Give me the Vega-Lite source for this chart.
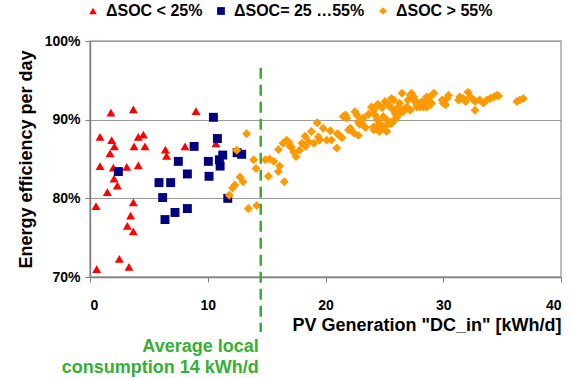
{
  "$schema": "https://vega.github.io/schema/vega-lite/v6.json",
  "width": 471,
  "height": 236,
  "autosize": {"type": "none"},
  "padding": {"left": 90, "top": 41, "right": 13, "bottom": 101},
  "config": {
    "font": "Liberation Sans",
    "view": {"stroke": "#a8a8a8", "strokeWidth": 1.5}
  },
  "layer": [
    {
      "data": {
        "values": [
          {"group": "ΔSOC < 25%", "x": 1.78, "y": 90.9},
          {"group": "ΔSOC < 25%", "x": 3.68, "y": 91.3},
          {"group": "ΔSOC < 25%", "x": 9.0, "y": 91.1},
          {"group": "ΔSOC < 25%", "x": 0.85, "y": 87.8},
          {"group": "ΔSOC < 25%", "x": 1.84, "y": 87.4},
          {"group": "ΔSOC < 25%", "x": 2.07, "y": 86.6},
          {"group": "ΔSOC < 25%", "x": 1.7, "y": 85.7},
          {"group": "ΔSOC < 25%", "x": 4.1, "y": 87.8},
          {"group": "ΔSOC < 25%", "x": 4.53, "y": 88.1},
          {"group": "ΔSOC < 25%", "x": 4.67, "y": 86.6},
          {"group": "ΔSOC < 25%", "x": 3.74, "y": 86.6},
          {"group": "ΔSOC < 25%", "x": 0.85, "y": 84.1},
          {"group": "ΔSOC < 25%", "x": 1.98, "y": 83.9},
          {"group": "ΔSOC < 25%", "x": 3.12, "y": 84.0},
          {"group": "ΔSOC < 25%", "x": 4.1, "y": 84.2},
          {"group": "ΔSOC < 25%", "x": 2.04, "y": 82.5},
          {"group": "ΔSOC < 25%", "x": 2.32, "y": 81.6},
          {"group": "ΔSOC < 25%", "x": 1.47, "y": 80.8},
          {"group": "ΔSOC < 25%", "x": 0.51, "y": 79.0},
          {"group": "ΔSOC < 25%", "x": 3.68, "y": 79.5},
          {"group": "ΔSOC < 25%", "x": 3.45, "y": 77.8},
          {"group": "ΔSOC < 25%", "x": 3.17, "y": 76.5},
          {"group": "ΔSOC < 25%", "x": 3.68, "y": 75.8},
          {"group": "ΔSOC < 25%", "x": 2.49, "y": 72.3},
          {"group": "ΔSOC < 25%", "x": 3.31, "y": 71.3},
          {"group": "ΔSOC < 25%", "x": 0.57, "y": 71.0},
          {"group": "ΔSOC < 25%", "x": 6.4, "y": 86.2},
          {"group": "ΔSOC < 25%", "x": 6.5, "y": 85.4},
          {"group": "ΔSOC < 25%", "x": 8.07, "y": 86.6},
          {"group": "ΔSOC < 25%", "x": 10.7, "y": 87.0},
          {"group": "ΔSOC= 25 …55%", "x": 2.41, "y": 83.4},
          {"group": "ΔSOC= 25 …55%", "x": 10.48, "y": 90.3},
          {"group": "ΔSOC= 25 …55%", "x": 10.82, "y": 87.6},
          {"group": "ΔSOC= 25 …55%", "x": 8.84, "y": 86.6},
          {"group": "ΔSOC= 25 …55%", "x": 11.27, "y": 85.5},
          {"group": "ΔSOC= 25 …55%", "x": 10.99, "y": 84.9},
          {"group": "ΔSOC= 25 …55%", "x": 11.05, "y": 84.1},
          {"group": "ΔSOC= 25 …55%", "x": 10.05, "y": 84.7},
          {"group": "ΔSOC= 25 …55%", "x": 10.11, "y": 82.8},
          {"group": "ΔSOC= 25 …55%", "x": 12.88, "y": 85.6},
          {"group": "ΔSOC= 25 …55%", "x": 12.5, "y": 85.8},
          {"group": "ΔSOC= 25 …55%", "x": 7.5, "y": 84.7},
          {"group": "ΔSOC= 25 …55%", "x": 8.27, "y": 83.1},
          {"group": "ΔSOC= 25 …55%", "x": 5.86, "y": 82.0},
          {"group": "ΔSOC= 25 …55%", "x": 6.85, "y": 82.0},
          {"group": "ΔSOC= 25 …55%", "x": 6.17, "y": 80.1},
          {"group": "ΔSOC= 25 …55%", "x": 8.27, "y": 78.7},
          {"group": "ΔSOC= 25 …55%", "x": 7.22, "y": 78.2},
          {"group": "ΔSOC= 25 …55%", "x": 6.37, "y": 77.3},
          {"group": "ΔSOC= 25 …55%", "x": 11.7, "y": 80.0},
          {"group": "ΔSOC > 55%", "x": 13.3, "y": 88.2},
          {"group": "ΔSOC > 55%", "x": 12.46, "y": 86.1},
          {"group": "ΔSOC > 55%", "x": 13.9, "y": 84.9},
          {"group": "ΔSOC > 55%", "x": 14.1, "y": 83.8},
          {"group": "ΔSOC > 55%", "x": 12.74, "y": 82.7},
          {"group": "ΔSOC > 55%", "x": 13.0, "y": 82.1},
          {"group": "ΔSOC > 55%", "x": 12.3, "y": 81.7},
          {"group": "ΔSOC > 55%", "x": 12.1, "y": 81.3},
          {"group": "ΔSOC > 55%", "x": 11.83, "y": 80.4},
          {"group": "ΔSOC > 55%", "x": 13.45, "y": 78.7},
          {"group": "ΔSOC > 55%", "x": 14.16, "y": 79.1},
          {"group": "ΔSOC > 55%", "x": 14.9, "y": 84.9},
          {"group": "ΔSOC > 55%", "x": 15.25, "y": 85.0},
          {"group": "ΔSOC > 55%", "x": 15.15, "y": 82.8},
          {"group": "ΔSOC > 55%", "x": 15.6, "y": 84.7},
          {"group": "ΔSOC > 55%", "x": 16.0, "y": 86.2},
          {"group": "ΔSOC > 55%", "x": 16.1, "y": 84.1},
          {"group": "ΔSOC > 55%", "x": 16.0, "y": 83.4},
          {"group": "ΔSOC > 55%", "x": 16.5, "y": 82.1},
          {"group": "ΔSOC > 55%", "x": 16.4, "y": 87.0},
          {"group": "ΔSOC > 55%", "x": 16.7, "y": 87.4},
          {"group": "ΔSOC > 55%", "x": 16.9, "y": 87.1},
          {"group": "ΔSOC > 55%", "x": 17.0, "y": 86.6},
          {"group": "ΔSOC > 55%", "x": 17.1, "y": 86.5},
          {"group": "ΔSOC > 55%", "x": 17.3, "y": 85.9},
          {"group": "ΔSOC > 55%", "x": 17.5, "y": 85.3},
          {"group": "ΔSOC > 55%", "x": 17.8, "y": 86.1},
          {"group": "ΔSOC > 55%", "x": 18.0, "y": 87.0},
          {"group": "ΔSOC > 55%", "x": 18.3, "y": 86.6},
          {"group": "ΔSOC > 55%", "x": 18.55, "y": 87.2},
          {"group": "ΔSOC > 55%", "x": 18.27, "y": 87.9},
          {"group": "ΔSOC > 55%", "x": 18.8, "y": 88.5},
          {"group": "ΔSOC > 55%", "x": 19.0, "y": 87.0},
          {"group": "ΔSOC > 55%", "x": 19.3, "y": 89.6},
          {"group": "ΔSOC > 55%", "x": 19.4, "y": 87.8},
          {"group": "ΔSOC > 55%", "x": 19.5, "y": 87.4},
          {"group": "ΔSOC > 55%", "x": 19.8, "y": 88.9},
          {"group": "ΔSOC > 55%", "x": 20.1, "y": 87.4},
          {"group": "ΔSOC > 55%", "x": 20.4, "y": 88.6},
          {"group": "ΔSOC > 55%", "x": 20.5, "y": 87.4},
          {"group": "ΔSOC > 55%", "x": 20.96, "y": 86.4},
          {"group": "ΔSOC > 55%", "x": 21.0, "y": 88.2},
          {"group": "ΔSOC > 55%", "x": 21.2, "y": 88.0},
          {"group": "ΔSOC > 55%", "x": 21.4, "y": 87.7},
          {"group": "ΔSOC > 55%", "x": 21.5, "y": 90.4},
          {"group": "ΔSOC > 55%", "x": 21.7, "y": 90.6},
          {"group": "ΔSOC > 55%", "x": 21.8, "y": 90.2},
          {"group": "ΔSOC > 55%", "x": 21.95, "y": 88.7},
          {"group": "ΔSOC > 55%", "x": 22.1, "y": 88.9},
          {"group": "ΔSOC > 55%", "x": 22.4, "y": 88.3},
          {"group": "ΔSOC > 55%", "x": 22.8, "y": 88.0},
          {"group": "ΔSOC > 55%", "x": 22.5, "y": 91.0},
          {"group": "ΔSOC > 55%", "x": 22.66, "y": 90.6},
          {"group": "ΔSOC > 55%", "x": 22.8, "y": 89.7},
          {"group": "ΔSOC > 55%", "x": 22.9, "y": 89.4},
          {"group": "ΔSOC > 55%", "x": 23.1, "y": 89.5},
          {"group": "ΔSOC > 55%", "x": 23.2, "y": 90.2},
          {"group": "ΔSOC > 55%", "x": 23.4, "y": 89.0},
          {"group": "ΔSOC > 55%", "x": 23.65, "y": 90.7},
          {"group": "ΔSOC > 55%", "x": 23.9, "y": 91.6},
          {"group": "ΔSOC > 55%", "x": 24.1, "y": 91.2},
          {"group": "ΔSOC > 55%", "x": 24.2, "y": 90.6},
          {"group": "ΔSOC > 55%", "x": 24.1, "y": 89.1},
          {"group": "ΔSOC > 55%", "x": 24.1, "y": 88.7},
          {"group": "ΔSOC > 55%", "x": 24.4, "y": 88.7},
          {"group": "ΔSOC > 55%", "x": 24.6, "y": 88.5},
          {"group": "ΔSOC > 55%", "x": 24.4, "y": 90.0},
          {"group": "ΔSOC > 55%", "x": 24.4, "y": 89.1},
          {"group": "ΔSOC > 55%", "x": 24.6, "y": 89.5},
          {"group": "ΔSOC > 55%", "x": 24.4, "y": 91.9},
          {"group": "ΔSOC > 55%", "x": 24.5, "y": 91.9},
          {"group": "ΔSOC > 55%", "x": 24.8, "y": 91.5},
          {"group": "ΔSOC > 55%", "x": 24.9, "y": 90.4},
          {"group": "ΔSOC > 55%", "x": 24.9, "y": 89.1},
          {"group": "ΔSOC > 55%", "x": 25.2, "y": 90.0},
          {"group": "ΔSOC > 55%", "x": 25.2, "y": 88.5},
          {"group": "ΔSOC > 55%", "x": 25.35, "y": 89.5},
          {"group": "ΔSOC > 55%", "x": 25.06, "y": 92.3},
          {"group": "ΔSOC > 55%", "x": 25.35, "y": 91.9},
          {"group": "ΔSOC > 55%", "x": 25.5, "y": 91.6},
          {"group": "ΔSOC > 55%", "x": 25.6, "y": 89.5},
          {"group": "ΔSOC > 55%", "x": 25.6, "y": 89.7},
          {"group": "ΔSOC > 55%", "x": 25.9, "y": 90.0},
          {"group": "ΔSOC > 55%", "x": 25.6, "y": 92.7},
          {"group": "ΔSOC > 55%", "x": 25.8, "y": 92.5},
          {"group": "ΔSOC > 55%", "x": 25.8, "y": 91.2},
          {"group": "ΔSOC > 55%", "x": 25.9, "y": 90.8},
          {"group": "ΔSOC > 55%", "x": 26.06, "y": 90.3},
          {"group": "ΔSOC > 55%", "x": 26.06, "y": 90.4},
          {"group": "ΔSOC > 55%", "x": 26.2, "y": 91.6},
          {"group": "ΔSOC > 55%", "x": 26.3, "y": 92.1},
          {"group": "ΔSOC > 55%", "x": 26.3, "y": 90.8},
          {"group": "ΔSOC > 55%", "x": 26.5, "y": 93.35},
          {"group": "ΔSOC > 55%", "x": 26.6, "y": 91.2},
          {"group": "ΔSOC > 55%", "x": 26.6, "y": 91.0},
          {"group": "ΔSOC > 55%", "x": 26.8, "y": 91.4},
          {"group": "ΔSOC > 55%", "x": 26.9, "y": 91.6},
          {"group": "ΔSOC > 55%", "x": 27.0, "y": 92.5},
          {"group": "ΔSOC > 55%", "x": 27.2, "y": 91.2},
          {"group": "ΔSOC > 55%", "x": 27.2, "y": 93.1},
          {"group": "ΔSOC > 55%", "x": 27.3, "y": 93.35},
          {"group": "ΔSOC > 55%", "x": 27.5, "y": 92.9},
          {"group": "ΔSOC > 55%", "x": 27.5, "y": 92.5},
          {"group": "ΔSOC > 55%", "x": 27.6, "y": 92.3},
          {"group": "ΔSOC > 55%", "x": 27.75, "y": 91.9},
          {"group": "ΔSOC > 55%", "x": 27.75, "y": 91.6},
          {"group": "ΔSOC > 55%", "x": 27.9, "y": 92.1},
          {"group": "ΔSOC > 55%", "x": 28.0, "y": 91.6},
          {"group": "ΔSOC > 55%", "x": 28.0, "y": 91.9},
          {"group": "ΔSOC > 55%", "x": 28.2, "y": 92.3},
          {"group": "ΔSOC > 55%", "x": 28.3, "y": 92.1},
          {"group": "ΔSOC > 55%", "x": 28.3, "y": 91.6},
          {"group": "ΔSOC > 55%", "x": 28.5, "y": 92.1},
          {"group": "ΔSOC > 55%", "x": 28.6, "y": 91.6},
          {"group": "ΔSOC > 55%", "x": 28.6, "y": 92.9},
          {"group": "ΔSOC > 55%", "x": 28.7, "y": 92.5},
          {"group": "ΔSOC > 55%", "x": 28.7, "y": 92.7},
          {"group": "ΔSOC > 55%", "x": 28.9, "y": 92.9},
          {"group": "ΔSOC > 55%", "x": 28.9, "y": 91.9},
          {"group": "ΔSOC > 55%", "x": 29.0, "y": 92.1},
          {"group": "ΔSOC > 55%", "x": 29.2, "y": 93.35},
          {"group": "ΔSOC > 55%", "x": 29.9, "y": 92.5},
          {"group": "ΔSOC > 55%", "x": 30.0, "y": 92.1},
          {"group": "ΔSOC > 55%", "x": 30.2, "y": 91.9},
          {"group": "ΔSOC > 55%", "x": 30.3, "y": 92.7},
          {"group": "ΔSOC > 55%", "x": 30.45, "y": 93.1},
          {"group": "ΔSOC > 55%", "x": 31.3, "y": 92.5},
          {"group": "ΔSOC > 55%", "x": 31.4, "y": 92.9},
          {"group": "ΔSOC > 55%", "x": 31.7, "y": 92.7},
          {"group": "ΔSOC > 55%", "x": 31.9, "y": 92.3},
          {"group": "ΔSOC > 55%", "x": 32.1, "y": 93.5},
          {"group": "ΔSOC > 55%", "x": 32.3, "y": 92.9},
          {"group": "ΔSOC > 55%", "x": 32.6, "y": 92.5},
          {"group": "ΔSOC > 55%", "x": 32.7, "y": 92.3},
          {"group": "ΔSOC > 55%", "x": 32.7, "y": 91.2},
          {"group": "ΔSOC > 55%", "x": 33.1, "y": 92.5},
          {"group": "ΔSOC > 55%", "x": 33.4, "y": 92.1},
          {"group": "ΔSOC > 55%", "x": 33.7, "y": 92.5},
          {"group": "ΔSOC > 55%", "x": 34.0, "y": 92.7},
          {"group": "ΔSOC > 55%", "x": 34.3, "y": 92.9},
          {"group": "ΔSOC > 55%", "x": 34.55, "y": 93.1},
          {"group": "ΔSOC > 55%", "x": 34.7, "y": 93.0},
          {"group": "ΔSOC > 55%", "x": 36.25, "y": 92.3},
          {"group": "ΔSOC > 55%", "x": 36.5, "y": 92.5},
          {"group": "ΔSOC > 55%", "x": 36.8, "y": 92.7}
        ]
      },
      "mark": {"type": "point", "filled": true, "opacity": 1, "strokeWidth": 0, "size": 80},
      "encoding": {
        "x": {
          "field": "x",
          "type": "quantitative",
          "scale": {"domain": [0, 40], "nice": false},
          "axis": {
            "values": [0, 10, 20, 30, 40],
            "title": "PV Generation \"DC_in\" [kWh/d]",
            "titleAnchor": "end",
            "titleFontSize": 18,
            "titleFontWeight": "bold",
            "titleColor": "#000000",
            "titlePadding": 4,
            "labelFontSize": 14,
            "labelFontWeight": "bold",
            "labelColor": "#000000",
            "labelPadding": 16,
            "tickSize": 5,
            "tickColor": "#808080",
            "domainColor": "#808080",
            "domainWidth": 1.5,
            "grid": false
          }
        },
        "y": {
          "field": "y",
          "type": "quantitative",
          "scale": {"domain": [70, 100], "nice": false},
          "axis": {
            "values": [70, 80, 90, 100],
            "labelExpr": "datum.value + '%'",
            "title": "Energy efficiency per day",
            "titleFontSize": 18,
            "titleFontWeight": "bold",
            "titleColor": "#000000",
            "titlePadding": 9,
            "labelFontSize": 14,
            "labelFontWeight": "bold",
            "labelColor": "#000000",
            "labelPadding": 5,
            "tickSize": 5,
            "tickColor": "#808080",
            "domainColor": "#808080",
            "domainWidth": 1.5,
            "grid": true,
            "gridColor": "#9a9a9a",
            "gridWidth": 1.2
          }
        },
        "shape": {
          "field": "group",
          "type": "nominal",
          "scale": {
            "domain": ["ΔSOC < 25%", "ΔSOC= 25 …55%", "ΔSOC > 55%"],
            "range": ["triangle-up", "square", "diamond"]
          },
          "legend": {
            "orient": "none",
            "legendX": -5,
            "legendY": -38,
            "direction": "horizontal",
            "title": null,
            "padding": 0,
            "labelFontSize": 16,
            "labelFontWeight": "bold",
            "labelColor": "#000000",
            "symbolSize": 60,
            "columnPadding": 10,
            "labelOffset": 5
          }
        },
        "color": {
          "field": "group",
          "type": "nominal",
          "scale": {
            "domain": ["ΔSOC < 25%", "ΔSOC= 25 …55%", "ΔSOC > 55%"],
            "range": ["#ff0000", "#000080", "#ff9900"]
          }
        }
      }
    },
    {
      "data": {"values": [{}]},
      "mark": {"type": "rule", "color": "#3aaa35", "strokeWidth": 2.5, "strokeDash": [11, 6]},
      "encoding": {
        "x": {"datum": 14.5},
        "y": {"datum": 96.6},
        "y2": {"datum": 63}
      }
    },
    {
      "data": {"values": [{}]},
      "mark": {
        "type": "text",
        "text": ["Average local", "consumption 14 kWh/d"],
        "align": "right",
        "baseline": "top",
        "fontSize": 18,
        "fontWeight": "bold",
        "color": "#35b035",
        "lineHeight": 21,
        "dx": -2
      },
      "encoding": {
        "x": {"datum": 14.5},
        "y": {"datum": 62.3}
      }
    }
  ]
}
